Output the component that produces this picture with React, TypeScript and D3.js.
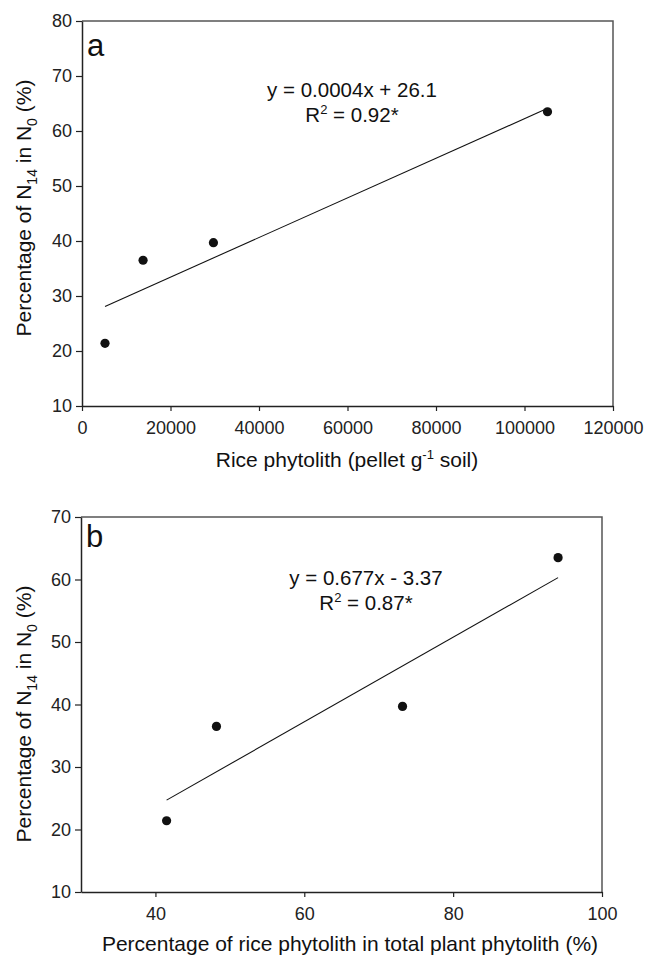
import React, { useEffect, useRef } from "react";
import * as d3 from "d3";

// panel a: rice phytolith count vs N14 share
const riceCount = [5200, 13800, 29700, 105200];
const n14Pct = [21.4, 36.5, 39.7, 63.5];
const fitAx = [5200, 104600];
const fitAy = [28.1, 63.9];
const xTicksA = [0, 20000, 40000, 60000, 80000, 100000, 120000];
const yTicksA = [10, 20, 30, 40, 50, 60, 70, 80];

// panel b: rice share of total phytolith vs N14 share
const ricePct = [41.5, 48.2, 73.2, 94.1];
const fitBx = [41.5, 94.1];
const fitBy = [24.7, 60.3];
const xTicksB = [40, 60, 80, 100];
const yTicksB = [10, 20, 30, 40, 50, 60, 70];

const FONT = "'Liberation Sans', Arial, Helvetica, sans-serif";

function drawPanel(svg, o) {
  const b = o.box;
  const x = d3.scaleLinear().domain(o.xDomain).range([b.left, b.right]);
  const y = d3.scaleLinear().domain(o.yDomain).range([b.bottom, b.top]);
  const g = svg.append("g").style("font-family", FONT).attr("fill", "#111");

  // frame (top + right), a bit lighter than the axes
  g.append("path")
    .attr("d", `M${b.left},${b.top}H${b.right}V${b.bottom}`)
    .attr("fill", "none")
    .attr("stroke", "#555")
    .attr("stroke-width", 1.5);

  const xAxis = g.append("g")
    .attr("transform", `translate(0,${b.bottom})`)
    .call(d3.axisBottom(x).tickValues(o.xTicks).tickSize(5).tickSizeOuter(0).tickFormat(d3.format("d")));
  const yAxis = g.append("g")
    .attr("transform", `translate(${b.left},0)`)
    .call(d3.axisLeft(y).tickValues(o.yTicks).tickSize(6).tickSizeOuter(0).tickFormat(d3.format("d")));

  [xAxis, yAxis].forEach((a) => {
    a.select(".domain").attr("stroke", "#222").attr("stroke-width", 1.5);
    a.selectAll(".tick line").attr("stroke", "#222").attr("stroke-width", 1.2);
    a.selectAll(".tick text")
      .attr("fill", "#222")
      .style("font-family", FONT)
      .style("font-size", "18px");
  });
  xAxis.selectAll(".tick text").attr("y", 15).attr("dy", "0.71em");
  yAxis.selectAll(".tick text").attr("x", -10);

  // fitted line
  g.append("line")
    .attr("x1", x(o.fx[0])).attr("y1", y(o.fy[0]))
    .attr("x2", x(o.fx[1])).attr("y2", y(o.fy[1]))
    .attr("stroke", "#111")
    .attr("stroke-width", 1.1);

  g.selectAll(".dot")
    .data(o.xs.map((v, i) => [v, o.ys[i]]))
    .enter()
    .append("circle")
    .attr("cx", (d) => x(d[0]))
    .attr("cy", (d) => y(d[1]))
    .attr("r", 4.6)
    .attr("fill", "#111");

  g.append("text")
    .attr("x", b.left + 5)
    .attr("y", o.letterY)
    .style("font-size", "31px")
    .text(o.letter);

  g.append("text")
    .attr("text-anchor", "middle")
    .attr("x", o.eqX)
    .attr("y", o.eqY)
    .style("font-size", "20.5px")
    .text(o.eq);
  const r2Line = g.append("text")
    .attr("text-anchor", "middle")
    .attr("x", o.eqX)
    .attr("y", o.eqY + 25)
    .style("font-size", "20.5px");
  r2Line.append("tspan").text("R");
  r2Line.append("tspan").attr("dy", -8).style("font-size", "13px").text("2");
  r2Line.append("tspan").attr("dy", 8).text(` = ${o.r2}*`);

  // x title
  const xt = g.append("text")
    .attr("text-anchor", "middle")
    .attr("x", o.xTitleX)
    .attr("y", o.xTitleY)
    .style("font-size", "21px");
  o.xTitle(xt);

  // y title
  const yt = g.append("text")
    .attr("text-anchor", "middle")
    .attr("transform", `translate(31,${o.yTitleY}) rotate(-90)`)
    .style("font-size", "21px");
  yt.append("tspan").text("Percentage of N");
  yt.append("tspan").attr("dy", 6).style("font-size", "14px").text("14");
  yt.append("tspan").attr("dy", -6).text(" in N");
  yt.append("tspan").attr("dy", 6).style("font-size", "14px").text("0");
  yt.append("tspan").attr("dy", -6).text(" (%)");
}

export default function App() {
  const ref = useRef(null);

  useEffect(() => {
    const svg = d3.select(ref.current);
    svg.selectAll("*").remove();

    drawPanel(svg, {
      box: { left: 82, right: 613, top: 21, bottom: 406 },
      xDomain: [0, 120000],
      yDomain: [10, 80],
      xTicks: xTicksA,
      yTicks: yTicksA,
      xs: riceCount,
      ys: n14Pct,
      fx: fitAx,
      fy: fitAy,
      letter: "a",
      letterY: 56,
      eq: "y = 0.0004x + 26.1",
      r2: "0.92",
      eqX: 352,
      eqY: 97,
      xTitleX: 347,
      xTitleY: 467,
      yTitleY: 208,
      xTitle: (t) => {
        t.append("tspan").text("Rice phytolith (pellet g");
        t.append("tspan").attr("dy", -8).style("font-size", "13px").text("-1");
        t.append("tspan").attr("dy", 8).text(" soil)");
      },
    });

    drawPanel(svg, {
      box: { left: 81, right: 602, top: 517, bottom: 892 },
      xDomain: [30, 100],
      yDomain: [10, 70],
      xTicks: xTicksB,
      yTicks: yTicksB,
      xs: ricePct,
      ys: n14Pct,
      fx: fitBx,
      fy: fitBy,
      letter: "b",
      letterY: 547,
      eq: "y = 0.677x - 3.37",
      r2: "0.87",
      eqX: 366,
      eqY: 585,
      xTitleX: 350,
      xTitleY: 951,
      yTitleY: 714,
      xTitle: (t) => {
        t.text("Percentage of rice phytolith in total plant phytolith (%)");
      },
    });
  }, []);

  return (
    <svg
      ref={ref}
      width={646}
      height={960}
      style={{ position: "absolute", left: 0, top: 0, background: "#fff" }}
    />
  );
}
